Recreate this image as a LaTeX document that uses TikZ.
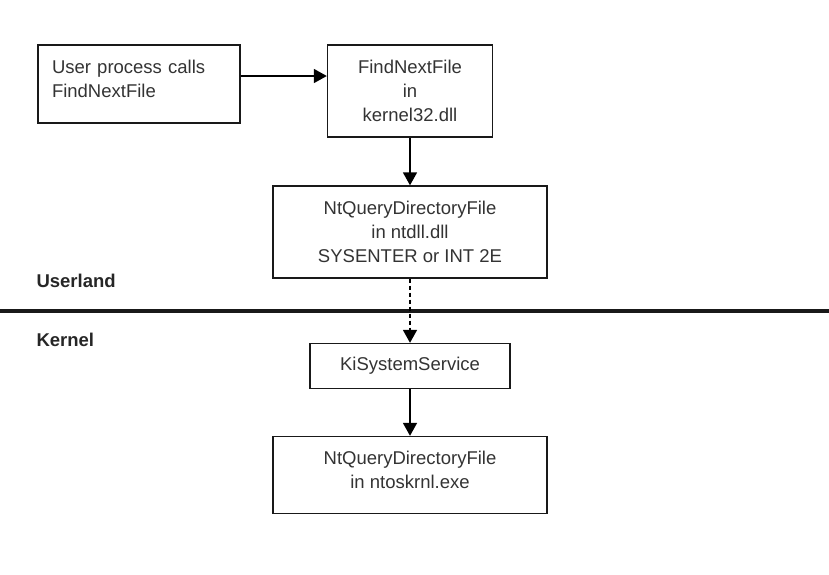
\documentclass[tikz,border=0pt]{standalone}
\usepackage{fontspec}
\setmainfont{Liberation Sans}
\usepackage{tikz}
\usetikzlibrary{arrows.meta,positioning}

\begin{document}
\begin{tikzpicture}[x=1pt,y=-1pt,
  box/.style={draw=black!90,line width=1.4pt,inner sep=0pt,align=center,
    font=\fontsize{18.5}{24}\selectfont,text=black!80},
  arr/.style={line width=1.8pt,-{Triangle[length=13pt,width=14pt]}},
  side/.style={anchor=west,font=\fontsize{18.5}{24}\selectfont\bfseries,text=black!85}]
\useasboundingbox (0,0) rectangle (829,574);
\node[box,minimum width=202,minimum height=78,text width=174,align=left] (user) at (139,84) {User process calls\\FindNextFile\\[-14pt]\mbox{}};
\node[box,minimum width=165,minimum height=92] (kdll) at (410,91) {FindNextFile\\in\\kernel32.dll};
\node[box,minimum width=274,minimum height=92] (ntdll) at (410,232) {NtQueryDirectoryFile\\in ntdll.dll\\SYSENTER or INT 2E};
\node[box,minimum width=200,minimum height=45] (kiss) at (410,366) {KiSystemService};
\node[box,minimum width=274,minimum height=77] (ntos) at (410,475) {NtQueryDirectoryFile\\in ntoskrnl.exe\\[-14pt]\mbox{}};
% userland / kernel split
\node[side] (uland) at (33,281) {Userland};
\node[side] (kern) at (33,340) {Kernel};
\draw[line width=4.5pt,black!90] (0,311) -- (829,311);
% calls
\draw[arr] ([yshift=8pt]user.east) -- ([yshift=8pt]user.east -| kdll.west);
\draw[arr] (kdll.south) -- (ntdll.north);
\draw[arr,dash pattern=on 4pt off 3pt] (ntdll.south) -- (kiss.north);
\draw[arr] (kiss.south) -- (ntos.north);
\end{tikzpicture}
\end{document}
